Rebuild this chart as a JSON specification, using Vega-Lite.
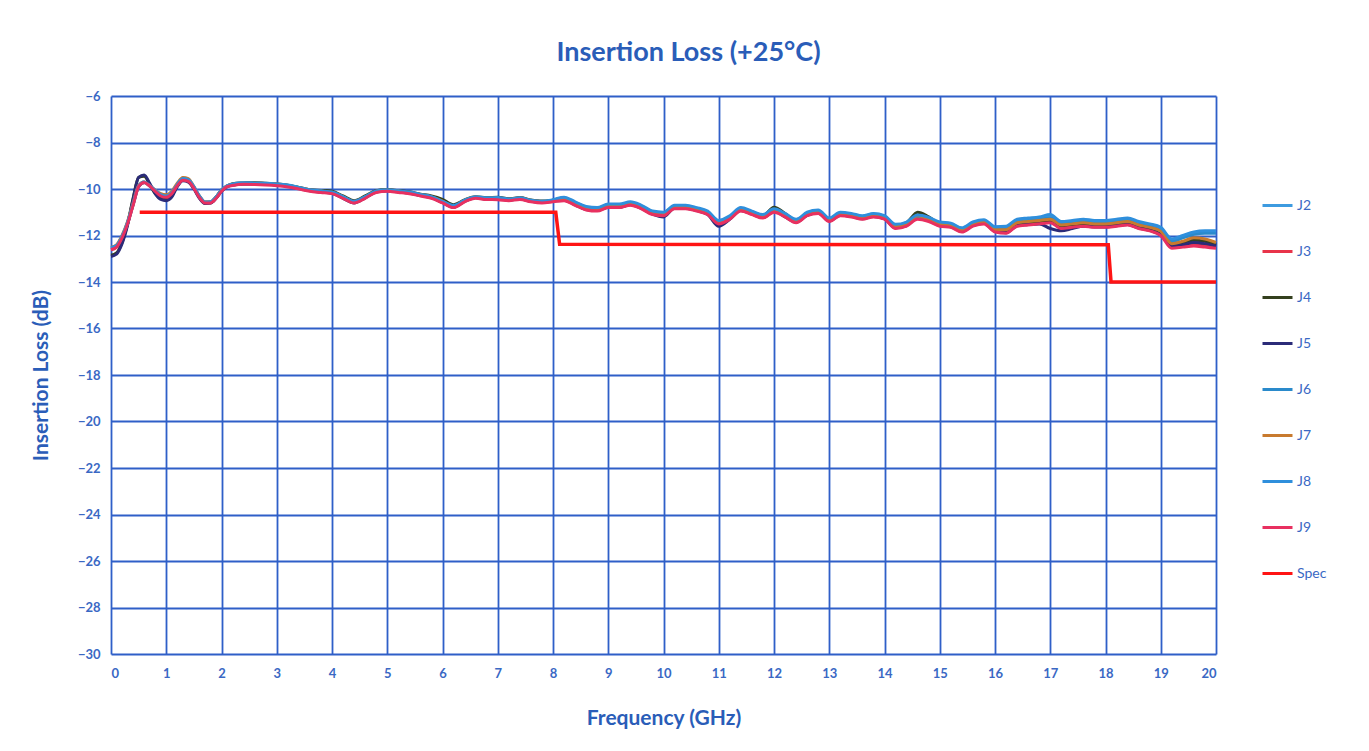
{
  "$schema": "https://vega.github.io/schema/vega-lite/v6.json",
  "autosize": {"type": "none"},
  "width": 1105,
  "height": 558,
  "padding": {"left": 111, "top": 96, "right": 153, "bottom": 97},
  "background": "white",
  "title": {"text": "Insertion Loss (+25°C)", "font": "Lato", "fontSize": 27, "fontWeight": "bold", "color": "#2a5db8", "anchor": "middle", "offset": 23, "dx": 25},
  "config": {
    "view": {"stroke": null},
    "axis": {"gridColor": "#2f5fc8", "gridWidth": 1.8, "gridOpacity": 1, "domain": false, "ticks": false, "labelFont": "Lato", "labelFontSize": 13, "labelFontWeight": "bold", "labelColor": "#3a68c4", "titleFont": "Lato", "titleFontSize": 21, "titleFontWeight": "bold", "titleColor": "#2a5db8"},
    "legend": {"labelFont": "Lato", "labelFontSize": 14, "labelColor": "#3a68c4"}
  },
  "datasets": {
    "meas": [
      {"f":0,"J2":-12.55,"J3":-12.62,"J4":-12.85,"J5":-12.9,"J6":-12.58,"J7":-12.5,"J8":-12.52,"J9":-12.6},
      {"f":0.1,"J2":-12.45,"J3":-12.5,"J4":-12.75,"J5":-12.8,"J6":-12.47,"J7":-12.4,"J8":-12.43,"J9":-12.5},
      {"f":0.2,"J2":-12.05,"J3":-12.1,"J4":-12.3,"J5":-12.35,"J6":-12.07,"J7":-12.0,"J8":-12.03,"J9":-12.1},
      {"f":0.3,"J2":-11.45,"J3":-11.5,"J4":-11.5,"J5":-11.55,"J6":-11.47,"J7":-11.4,"J8":-11.43,"J9":-11.5},
      {"f":0.4,"J2":-10.65,"J3":-10.68,"J4":-10.4,"J5":-10.45,"J6":-10.67,"J7":-10.6,"J8":-10.63,"J9":-10.7},
      {"f":0.5,"J2":-9.88,"J3":-9.9,"J4":-9.5,"J5":-9.5,"J6":-9.9,"J7":-9.85,"J8":-9.87,"J9":-9.9},
      {"f":0.6,"J2":-9.7,"J3":-9.72,"J4":-9.45,"J5":-9.4,"J6":-9.72,"J7":-9.7,"J8":-9.7,"J9":-9.72},
      {"f":0.7,"J2":-9.85,"J3":-9.87,"J4":-9.8,"J5":-9.75,"J6":-9.86,"J7":-9.85,"J8":-9.85,"J9":-9.87},
      {"f":0.8,"J2":-10.07,"J3":-10.1,"J4":-10.2,"J5":-10.2,"J6":-10.08,"J7":-10.05,"J8":-10.06,"J9":-10.1},
      {"f":0.9,"J2":-10.25,"J3":-10.3,"J4":-10.4,"J5":-10.45,"J6":-10.27,"J7":-10.2,"J8":-10.24,"J9":-10.3},
      {"f":1.0,"J2":-10.3,"J3":-10.35,"J4":-10.45,"J5":-10.5,"J6":-10.32,"J7":-10.25,"J8":-10.3,"J9":-10.36},
      {"f":1.1,"J2":-10.15,"J3":-10.2,"J4":-10.3,"J5":-10.35,"J6":-10.17,"J7":-10.1,"J8":-10.15,"J9":-10.2},
      {"f":1.2,"J2":-9.82,"J3":-9.85,"J4":-9.85,"J5":-9.9,"J6":-9.83,"J7":-9.75,"J8":-9.8,"J9":-9.86},
      {"f":1.3,"J2":-9.57,"J3":-9.6,"J4":-9.6,"J5":-9.65,"J6":-9.58,"J7":-9.5,"J8":-9.55,"J9":-9.62},
      {"f":1.4,"J2":-9.62,"J3":-9.65,"J4":-9.65,"J5":-9.7,"J6":-9.63,"J7":-9.55,"J8":-9.6,"J9":-9.67},
      {"f":1.5,"J2":-9.92,"J3":-9.95,"J4":-9.95,"J5":-10.0,"J6":-9.93,"J7":-9.9,"J8":-9.9,"J9":-9.97},
      {"f":1.6,"J2":-10.32,"J3":-10.35,"J4":-10.35,"J5":-10.4,"J6":-10.33,"J7":-10.3,"J8":-10.3,"J9":-10.37},
      {"f":1.7,"J2":-10.57,"J3":-10.6,"J4":-10.6,"J5":-10.62,"J6":-10.58,"J7":-10.55,"J8":-10.56,"J9":-10.6},
      {"f":1.8,"J2":-10.56,"J3":-10.6,"J4":-10.58,"J5":-10.6,"J6":-10.57,"J7":-10.55,"J8":-10.55,"J9":-10.6},
      {"f":1.9,"J2":-10.36,"J3":-10.4,"J4":-10.35,"J5":-10.4,"J6":-10.37,"J7":-10.35,"J8":-10.35,"J9":-10.41},
      {"f":2.0,"J2":-10.06,"J3":-10.1,"J4":-10.05,"J5":-10.1,"J6":-10.07,"J7":-10.05,"J8":-10.05,"J9":-10.1},
      {"f":2.1,"J2":-9.87,"J3":-9.9,"J4":-9.88,"J5":-9.9,"J6":-9.88,"J7":-9.86,"J8":-9.86,"J9":-9.9},
      {"f":2.2,"J2":-9.8,"J3":-9.82,"J4":-9.77,"J5":-9.83,"J6":-9.83,"J7":-9.79,"J8":-9.78,"J9":-9.85},
      {"f":2.4,"J2":-9.75,"J3":-9.78,"J4":-9.74,"J5":-9.78,"J6":-9.77,"J7":-9.75,"J8":-9.73,"J9":-9.8},
      {"f":2.6,"J2":-9.76,"J3":-9.77,"J4":-9.72,"J5":-9.79,"J6":-9.78,"J7":-9.74,"J8":-9.74,"J9":-9.81},
      {"f":2.8,"J2":-9.78,"J3":-9.8,"J4":-9.75,"J5":-9.8,"J6":-9.8,"J7":-9.76,"J8":-9.75,"J9":-9.83},
      {"f":3.0,"J2":-9.8,"J3":-9.83,"J4":-9.78,"J5":-9.83,"J6":-9.83,"J7":-9.79,"J8":-9.78,"J9":-9.86},
      {"f":3.2,"J2":-9.85,"J3":-9.88,"J4":-9.84,"J5":-9.88,"J6":-9.88,"J7":-9.85,"J8":-9.83,"J9":-9.91},
      {"f":3.4,"J2":-9.95,"J3":-9.97,"J4":-9.93,"J5":-9.98,"J6":-9.97,"J7":-9.94,"J8":-9.93,"J9":-10.0},
      {"f":3.6,"J2":-10.05,"J3":-10.07,"J4":-10.03,"J5":-10.08,"J6":-10.07,"J7":-10.04,"J8":-10.03,"J9":-10.1},
      {"f":3.8,"J2":-10.1,"J3":-10.12,"J4":-10.06,"J5":-10.13,"J6":-10.12,"J7":-10.09,"J8":-10.08,"J9":-10.15},
      {"f":4.0,"J2":-10.15,"J3":-10.17,"J4":-10.1,"J5":-10.18,"J6":-10.17,"J7":-10.14,"J8":-10.13,"J9":-10.2},
      {"f":4.2,"J2":-10.35,"J3":-10.37,"J4":-10.3,"J5":-10.4,"J6":-10.37,"J7":-10.34,"J8":-10.33,"J9":-10.4},
      {"f":4.4,"J2":-10.55,"J3":-10.57,"J4":-10.5,"J5":-10.6,"J6":-10.57,"J7":-10.54,"J8":-10.53,"J9":-10.6},
      {"f":4.6,"J2":-10.35,"J3":-10.37,"J4":-10.3,"J5":-10.38,"J6":-10.37,"J7":-10.34,"J8":-10.33,"J9":-10.4},
      {"f":4.8,"J2":-10.1,"J3":-10.12,"J4":-10.07,"J5":-10.13,"J6":-10.12,"J7":-10.09,"J8":-10.08,"J9":-10.15},
      {"f":5.0,"J2":-10.05,"J3":-10.07,"J4":-10.02,"J5":-10.08,"J6":-10.07,"J7":-10.04,"J8":-10.03,"J9":-10.1},
      {"f":5.2,"J2":-10.1,"J3":-10.12,"J4":-10.07,"J5":-10.13,"J6":-10.12,"J7":-10.09,"J8":-10.08,"J9":-10.15},
      {"f":5.4,"J2":-10.15,"J3":-10.17,"J4":-10.12,"J5":-10.18,"J6":-10.17,"J7":-10.14,"J8":-10.13,"J9":-10.2},
      {"f":5.6,"J2":-10.25,"J3":-10.27,"J4":-10.22,"J5":-10.28,"J6":-10.27,"J7":-10.24,"J8":-10.23,"J9":-10.3},
      {"f":5.8,"J2":-10.35,"J3":-10.37,"J4":-10.3,"J5":-10.38,"J6":-10.37,"J7":-10.34,"J8":-10.33,"J9":-10.4},
      {"f":6.0,"J2":-10.55,"J3":-10.57,"J4":-10.45,"J5":-10.58,"J6":-10.57,"J7":-10.52,"J8":-10.53,"J9":-10.6},
      {"f":6.2,"J2":-10.72,"J3":-10.77,"J4":-10.68,"J5":-10.78,"J6":-10.75,"J7":-10.74,"J8":-10.7,"J9":-10.8},
      {"f":6.4,"J2":-10.5,"J3":-10.52,"J4":-10.47,"J5":-10.53,"J6":-10.52,"J7":-10.49,"J8":-10.48,"J9":-10.55},
      {"f":6.6,"J2":-10.35,"J3":-10.37,"J4":-10.33,"J5":-10.38,"J6":-10.37,"J7":-10.34,"J8":-10.33,"J9":-10.4},
      {"f":6.8,"J2":-10.4,"J3":-10.42,"J4":-10.37,"J5":-10.43,"J6":-10.42,"J7":-10.39,"J8":-10.38,"J9":-10.45},
      {"f":7.0,"J2":-10.38,"J3":-10.42,"J4":-10.36,"J5":-10.43,"J6":-10.41,"J7":-10.39,"J8":-10.37,"J9":-10.46},
      {"f":7.2,"J2":-10.44,"J3":-10.47,"J4":-10.42,"J5":-10.48,"J6":-10.47,"J7":-10.44,"J8":-10.43,"J9":-10.5},
      {"f":7.4,"J2":-10.4,"J3":-10.42,"J4":-10.37,"J5":-10.43,"J6":-10.42,"J7":-10.39,"J8":-10.38,"J9":-10.45},
      {"f":7.6,"J2":-10.5,"J3":-10.52,"J4":-10.47,"J5":-10.53,"J6":-10.52,"J7":-10.49,"J8":-10.48,"J9":-10.55},
      {"f":7.8,"J2":-10.55,"J3":-10.57,"J4":-10.52,"J5":-10.58,"J6":-10.57,"J7":-10.54,"J8":-10.53,"J9":-10.6},
      {"f":8.0,"J2":-10.48,"J3":-10.52,"J4":-10.48,"J5":-10.53,"J6":-10.5,"J7":-10.5,"J8":-10.46,"J9":-10.55},
      {"f":8.2,"J2":-10.38,"J3":-10.47,"J4":-10.4,"J5":-10.48,"J6":-10.42,"J7":-10.44,"J8":-10.35,"J9":-10.5},
      {"f":8.4,"J2":-10.58,"J3":-10.67,"J4":-10.6,"J5":-10.68,"J6":-10.62,"J7":-10.64,"J8":-10.55,"J9":-10.7},
      {"f":8.6,"J2":-10.78,"J3":-10.87,"J4":-10.8,"J5":-10.88,"J6":-10.82,"J7":-10.84,"J8":-10.75,"J9":-10.9},
      {"f":8.8,"J2":-10.83,"J3":-10.92,"J4":-10.85,"J5":-10.93,"J6":-10.87,"J7":-10.89,"J8":-10.8,"J9":-10.95},
      {"f":9.0,"J2":-10.68,"J3":-10.77,"J4":-10.7,"J5":-10.78,"J6":-10.72,"J7":-10.74,"J8":-10.65,"J9":-10.8},
      {"f":9.2,"J2":-10.68,"J3":-10.77,"J4":-10.7,"J5":-10.78,"J6":-10.72,"J7":-10.74,"J8":-10.65,"J9":-10.8},
      {"f":9.4,"J2":-10.58,"J3":-10.67,"J4":-10.6,"J5":-10.68,"J6":-10.62,"J7":-10.64,"J8":-10.55,"J9":-10.7},
      {"f":9.6,"J2":-10.73,"J3":-10.82,"J4":-10.75,"J5":-10.83,"J6":-10.77,"J7":-10.79,"J8":-10.7,"J9":-10.85},
      {"f":9.8,"J2":-10.98,"J3":-11.07,"J4":-11.0,"J5":-11.08,"J6":-11.02,"J7":-11.04,"J8":-10.95,"J9":-11.1},
      {"f":10.0,"J2":-11.03,"J3":-11.12,"J4":-11.05,"J5":-11.2,"J6":-11.07,"J7":-11.09,"J8":-11.0,"J9":-11.15},
      {"f":10.2,"J2":-10.73,"J3":-10.82,"J4":-10.75,"J5":-10.83,"J6":-10.77,"J7":-10.79,"J8":-10.7,"J9":-10.85},
      {"f":10.4,"J2":-10.73,"J3":-10.82,"J4":-10.75,"J5":-10.83,"J6":-10.77,"J7":-10.79,"J8":-10.7,"J9":-10.85},
      {"f":10.6,"J2":-10.83,"J3":-10.92,"J4":-10.85,"J5":-10.93,"J6":-10.87,"J7":-10.89,"J8":-10.8,"J9":-10.95},
      {"f":10.8,"J2":-10.98,"J3":-11.07,"J4":-11.0,"J5":-11.1,"J6":-11.02,"J7":-11.04,"J8":-10.95,"J9":-11.1},
      {"f":11.0,"J2":-11.38,"J3":-11.47,"J4":-11.4,"J5":-11.6,"J6":-11.42,"J7":-11.44,"J8":-11.35,"J9":-11.5},
      {"f":11.2,"J2":-11.18,"J3":-11.27,"J4":-11.2,"J5":-11.3,"J6":-11.22,"J7":-11.24,"J8":-11.15,"J9":-11.3},
      {"f":11.4,"J2":-10.83,"J3":-10.92,"J4":-10.85,"J5":-10.93,"J6":-10.87,"J7":-10.89,"J8":-10.8,"J9":-10.95},
      {"f":11.6,"J2":-10.98,"J3":-11.07,"J4":-11.0,"J5":-11.08,"J6":-11.02,"J7":-11.04,"J8":-10.95,"J9":-11.1},
      {"f":11.8,"J2":-11.13,"J3":-11.22,"J4":-11.15,"J5":-11.23,"J6":-11.17,"J7":-11.19,"J8":-11.1,"J9":-11.25},
      {"f":12.0,"J2":-10.88,"J3":-10.97,"J4":-10.78,"J5":-10.95,"J6":-10.92,"J7":-10.94,"J8":-10.85,"J9":-11.0},
      {"f":12.2,"J2":-11.08,"J3":-11.17,"J4":-11.05,"J5":-11.2,"J6":-11.12,"J7":-11.14,"J8":-11.05,"J9":-11.2},
      {"f":12.4,"J2":-11.33,"J3":-11.42,"J4":-11.35,"J5":-11.43,"J6":-11.37,"J7":-11.39,"J8":-11.3,"J9":-11.45},
      {"f":12.6,"J2":-11.03,"J3":-11.12,"J4":-11.05,"J5":-11.13,"J6":-11.07,"J7":-11.09,"J8":-11.0,"J9":-11.15},
      {"f":12.8,"J2":-10.93,"J3":-11.02,"J4":-10.95,"J5":-11.03,"J6":-10.97,"J7":-10.99,"J8":-10.9,"J9":-11.05},
      {"f":13.0,"J2":-11.28,"J3":-11.37,"J4":-11.3,"J5":-11.38,"J6":-11.32,"J7":-11.34,"J8":-11.25,"J9":-11.4},
      {"f":13.2,"J2":-11.03,"J3":-11.12,"J4":-11.05,"J5":-11.13,"J6":-11.07,"J7":-11.09,"J8":-11.0,"J9":-11.15},
      {"f":13.4,"J2":-11.08,"J3":-11.17,"J4":-11.1,"J5":-11.18,"J6":-11.12,"J7":-11.14,"J8":-11.05,"J9":-11.2},
      {"f":13.6,"J2":-11.18,"J3":-11.27,"J4":-11.2,"J5":-11.28,"J6":-11.22,"J7":-11.24,"J8":-11.15,"J9":-11.3},
      {"f":13.8,"J2":-11.08,"J3":-11.17,"J4":-11.1,"J5":-11.18,"J6":-11.12,"J7":-11.14,"J8":-11.05,"J9":-11.2},
      {"f":14.0,"J2":-11.18,"J3":-11.27,"J4":-11.2,"J5":-11.28,"J6":-11.22,"J7":-11.24,"J8":-11.15,"J9":-11.3},
      {"f":14.2,"J2":-11.55,"J3":-11.67,"J4":-11.58,"J5":-11.67,"J6":-11.6,"J7":-11.62,"J8":-11.52,"J9":-11.7},
      {"f":14.4,"J2":-11.45,"J3":-11.57,"J4":-11.45,"J5":-11.57,"J6":-11.5,"J7":-11.52,"J8":-11.42,"J9":-11.6},
      {"f":14.6,"J2":-11.15,"J3":-11.27,"J4":-11.0,"J5":-11.2,"J6":-11.2,"J7":-11.15,"J8":-11.12,"J9":-11.3},
      {"f":14.8,"J2":-11.25,"J3":-11.37,"J4":-11.2,"J5":-11.35,"J6":-11.3,"J7":-11.32,"J8":-11.22,"J9":-11.4},
      {"f":15.0,"J2":-11.45,"J3":-11.57,"J4":-11.48,"J5":-11.57,"J6":-11.5,"J7":-11.52,"J8":-11.42,"J9":-11.6},
      {"f":15.2,"J2":-11.5,"J3":-11.62,"J4":-11.53,"J5":-11.62,"J6":-11.55,"J7":-11.57,"J8":-11.47,"J9":-11.65},
      {"f":15.4,"J2":-11.7,"J3":-11.82,"J4":-11.73,"J5":-11.82,"J6":-11.75,"J7":-11.77,"J8":-11.67,"J9":-11.85},
      {"f":15.6,"J2":-11.45,"J3":-11.57,"J4":-11.48,"J5":-11.57,"J6":-11.5,"J7":-11.52,"J8":-11.42,"J9":-11.6},
      {"f":15.8,"J2":-11.35,"J3":-11.47,"J4":-11.38,"J5":-11.47,"J6":-11.4,"J7":-11.42,"J8":-11.32,"J9":-11.5},
      {"f":16.0,"J2":-11.65,"J3":-11.82,"J4":-11.72,"J5":-11.82,"J6":-11.72,"J7":-11.75,"J8":-11.62,"J9":-11.85},
      {"f":16.2,"J2":-11.65,"J3":-11.85,"J4":-11.78,"J5":-11.88,"J6":-11.72,"J7":-11.75,"J8":-11.6,"J9":-11.9},
      {"f":16.4,"J2":-11.35,"J3":-11.55,"J4":-11.48,"J5":-11.58,"J6":-11.42,"J7":-11.45,"J8":-11.3,"J9":-11.6},
      {"f":16.6,"J2":-11.3,"J3":-11.5,"J4":-11.43,"J5":-11.53,"J6":-11.37,"J7":-11.4,"J8":-11.25,"J9":-11.55},
      {"f":16.8,"J2":-11.25,"J3":-11.45,"J4":-11.38,"J5":-11.5,"J6":-11.32,"J7":-11.35,"J8":-11.2,"J9":-11.5},
      {"f":17.0,"J2":-11.15,"J3":-11.4,"J4":-11.35,"J5":-11.7,"J6":-11.25,"J7":-11.3,"J8":-11.1,"J9":-11.45},
      {"f":17.2,"J2":-11.4,"J3":-11.65,"J4":-11.58,"J5":-11.8,"J6":-11.5,"J7":-11.55,"J8":-11.4,"J9":-11.7},
      {"f":17.4,"J2":-11.4,"J3":-11.6,"J4":-11.53,"J5":-11.7,"J6":-11.47,"J7":-11.5,"J8":-11.35,"J9":-11.65},
      {"f":17.6,"J2":-11.35,"J3":-11.55,"J4":-11.48,"J5":-11.6,"J6":-11.42,"J7":-11.45,"J8":-11.3,"J9":-11.6},
      {"f":17.8,"J2":-11.4,"J3":-11.6,"J4":-11.53,"J5":-11.63,"J6":-11.47,"J7":-11.5,"J8":-11.35,"J9":-11.65},
      {"f":18.0,"J2":-11.4,"J3":-11.6,"J4":-11.53,"J5":-11.63,"J6":-11.47,"J7":-11.5,"J8":-11.35,"J9":-11.65},
      {"f":18.2,"J2":-11.35,"J3":-11.55,"J4":-11.48,"J5":-11.58,"J6":-11.42,"J7":-11.45,"J8":-11.3,"J9":-11.6},
      {"f":18.4,"J2":-11.3,"J3":-11.5,"J4":-11.43,"J5":-11.53,"J6":-11.37,"J7":-11.4,"J8":-11.25,"J9":-11.55},
      {"f":18.6,"J2":-11.45,"J3":-11.65,"J4":-11.58,"J5":-11.68,"J6":-11.52,"J7":-11.55,"J8":-11.4,"J9":-11.7},
      {"f":18.8,"J2":-11.55,"J3":-11.75,"J4":-11.68,"J5":-11.78,"J6":-11.62,"J7":-11.65,"J8":-11.5,"J9":-11.8},
      {"f":19.0,"J2":-11.7,"J3":-11.95,"J4":-11.85,"J5":-11.98,"J6":-11.8,"J7":-11.82,"J8":-11.65,"J9":-12.0},
      {"f":19.2,"J2":-12.2,"J3":-12.45,"J4":-12.35,"J5":-12.45,"J6":-12.25,"J7":-12.35,"J8":-12.15,"J9":-12.55},
      {"f":19.4,"J2":-12.05,"J3":-12.45,"J4":-12.3,"J5":-12.4,"J6":-12.1,"J7":-12.25,"J8":-12.0,"J9":-12.5},
      {"f":19.6,"J2":-11.9,"J3":-12.35,"J4":-12.2,"J5":-12.3,"J6":-11.95,"J7":-12.1,"J8":-11.85,"J9":-12.45},
      {"f":19.8,"J2":-11.85,"J3":-12.4,"J4":-12.25,"J5":-12.35,"J6":-11.9,"J7":-12.15,"J8":-11.8,"J9":-12.5},
      {"f":20.0,"J2":-11.85,"J3":-12.5,"J4":-12.4,"J5":-12.45,"J6":-11.9,"J7":-12.3,"J8":-11.8,"J9":-12.55}
    ],
    "spec": [
      {"f":0.52,"v":-11.0,"s":"Spec"},
      {"f":8.05,"v":-11.0,"s":"Spec"},
      {"f":8.12,"v":-12.38,"s":"Spec"},
      {"f":18.05,"v":-12.4,"s":"Spec"},
      {"f":18.1,"v":-14.0,"s":"Spec"},
      {"f":20.0,"v":-14.0,"s":"Spec"}
    ]
  },
  "encoding": {
    "x": {"field": "f", "type": "quantitative", "scale": {"domain": [0, 20], "nice": false, "zero": false}, "axis": {"values": [0,1,2,3,4,5,6,7,8,9,10,11,12,13,14,15,16,17,18,19,20], "title": "Frequency (GHz)", "labelPadding": 13, "titlePadding": 27}},
    "y": {"field": "v", "type": "quantitative", "scale": {"domain": [-30, -6], "nice": false, "zero": false}, "axis": {"values": [-30,-28,-26,-24,-22,-20,-18,-16,-14,-12,-10,-8,-6], "title": "Insertion Loss (dB)", "labelPadding": 11, "titlePadding": 26}},
    "color": {"field": "s", "type": "nominal", "scale": {"domain": ["J2","J3","J4","J5","J6","J7","J8","J9","Spec"], "range": ["#3d9be0","#e8344a","#34401e","#2b2b78","#2a8acb","#c87a2e","#2f8fdc","#e83060","#ff1414"]}, "legend": {"title": null, "orient": "none", "legendX": 1150, "legendY": 93, "symbolType": "stroke", "symbolSize": 900, "symbolStrokeWidth": 3, "rowPadding": 22, "labelOffset": 3, "padding": 0}}
  },
  "layer": [
    {
      "data": {"name": "meas"},
      "transform": [{"fold": ["J2","J3","J4","J5","J6","J7","J8","J9"], "as": ["s", "v"]}],
      "mark": {"type": "line", "strokeWidth": 3, "interpolate": "monotone"}
    },
    {
      "data": {"name": "spec"},
      "mark": {"type": "line", "strokeWidth": 3.5}
    }
  ]
}
